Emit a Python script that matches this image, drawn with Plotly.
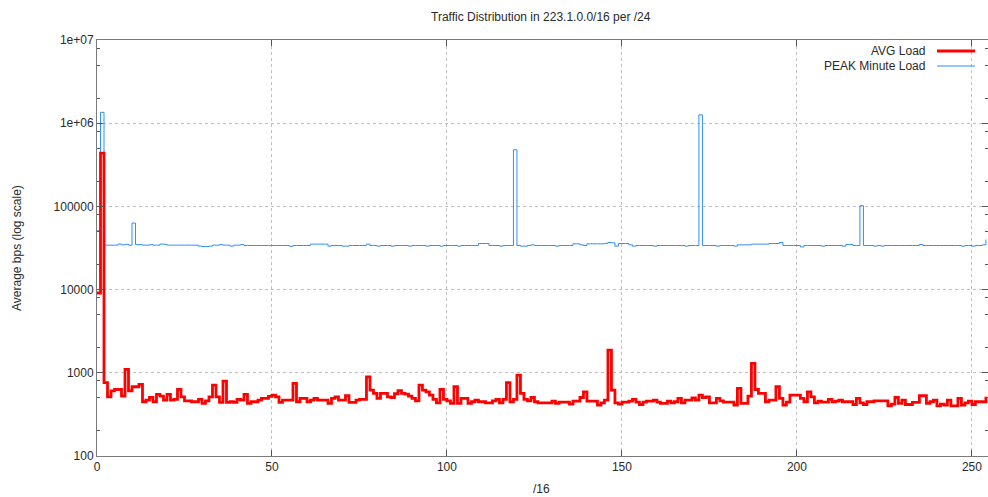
import plotly.graph_objects as go

# /24 index within 223.1.0.0/16
subnets = list(range(0, 255))

avg_load = [
    9100, 436000, 760, 515, 608, 630, 630, 525, 1100, 608,
    680, 680, 725, 449, 470, 506, 449, 550, 525, 470,
    550, 470, 480, 630, 515, 460, 460, 449, 449, 480,
    428, 460, 515, 710, 515, 440, 795, 440, 449, 440,
    480, 470, 550, 429, 449, 449, 470, 492, 492, 520,
    540, 515, 440, 470, 470, 470, 745, 449, 492, 492,
    449, 470, 492, 470, 470, 470, 429, 492, 515, 470,
    470, 530, 440, 440, 470, 480, 480, 895, 620, 565,
    492, 565, 565, 515, 505, 560, 610, 565, 555, 525,
    492, 460, 710, 620, 590, 540, 480, 436, 630, 480,
    460, 429, 680, 429, 492, 492, 429, 449, 470, 449,
    449, 436, 436, 460, 480, 436, 480, 760, 449, 480,
    940, 565, 480, 460, 505, 449, 436, 436, 436, 436,
    457, 429, 445, 445, 445, 420, 457, 457, 505, 590,
    457, 457, 457, 410, 436, 470, 1870, 620, 436, 420,
    445, 445, 457, 480, 445, 416, 445, 457, 457, 470,
    445, 429, 429, 457, 436, 449, 492, 436, 470, 470,
    500, 470, 540, 505, 515, 436, 436, 492, 460, 445,
    445, 445, 410, 650, 429, 429, 525, 1295, 630, 565,
    565, 449, 470, 470, 680, 492, 410, 445, 540, 540,
    540, 492, 449, 590, 515, 436, 457, 445, 445, 480,
    449, 457, 470, 449, 449, 449, 416, 492, 436, 416,
    449, 449, 460, 460, 460, 460, 400, 420, 505, 429,
    470, 416, 416, 440, 440, 530, 530, 429, 449, 470,
    400, 420, 410, 470, 400, 400, 492, 410, 436, 457,
    416, 449, 449, 449, 515,
]

peak_minute_load = [
    51000, 1350000, 34200, 34200, 34200, 34200, 35300, 34500, 35000, 34200,
    63000, 34700, 34700, 34200, 34200, 34700, 34200, 34200, 35300, 35000,
    34200, 34200, 34200, 34200, 34200, 34200, 34200, 34200, 34200, 33300,
    33000, 33000, 33300, 34200, 34200, 34700, 34200, 34200, 33300, 34200,
    34200, 34700, 33900, 33900, 33900, 33900, 33900, 33900, 33900, 33900,
    33900, 33900, 33900, 33900, 33900, 33100, 33900, 33900, 33900, 33900,
    33900, 35200, 35200, 35200, 35200, 35200, 33300, 33900, 33900, 33900,
    33300, 33300, 33900, 33900, 33900, 33900, 34000, 35200, 33900, 33900,
    33300, 33900, 33900, 33900, 33300, 33900, 33900, 33900, 33900, 33300,
    33900, 33900, 33900, 33900, 33300, 33900, 33900, 33900, 33300, 33900,
    33900, 33900, 33900, 33300, 33900, 33900, 33900, 33900, 33900, 35800,
    35800, 35800, 33900, 33900, 33900, 33300, 33900, 33900, 33900, 478000,
    33900, 33300, 33300, 33900, 34500, 33900, 33900, 33900, 33900, 33900,
    33900, 33300, 33900, 33900, 33900, 33900, 35500, 35500, 34500, 33900,
    35500, 35500, 35500, 35500, 35500, 36000, 36800, 36500, 33300, 35800,
    35800, 35800, 34500, 33300, 33900, 33900, 33900, 33900, 33900, 33300,
    33900, 33900, 33900, 33900, 33900, 33900, 33900, 33900, 33300, 33900,
    33900, 33900, 1260000, 33900, 33900, 33900, 33900, 33300, 33900, 33900,
    33900, 33900, 33300, 34500, 34500, 34500, 34500, 35200, 35200, 35200,
    35200, 35200, 35800, 35800, 35800, 36800, 33900, 33900, 33900, 33900,
    33900, 32600, 33900, 33900, 33900, 33900, 33900, 33300, 33900, 33900,
    33900, 33900, 33900, 33300, 34800, 34800, 33900, 33900, 102000, 33900,
    33900, 33900, 33300, 33900, 33300, 33900, 33900, 33900, 33900, 33900,
    33900, 33900, 33900, 33900, 33900, 34800, 33900, 33900, 33900, 33900,
    33900, 33900, 33900, 33900, 33900, 33900, 33900, 33300, 33900, 33900,
    33300, 33900, 33900, 34500, 40000,
]

x_ticks = [0, 50, 100, 150, 200, 250]
y_ticks = [100, 1000, 10000, 100000, 1000000, 10000000]
y_tick_labels = ["100", "1000", "10000", "100000", "1e+06", "1e+07"]
y_minor = [m * 10 ** e for e in range(2, 7) for m in (2, 5, 8)]

RED = "#ff0000"
BLUE = "#2f8ff5"
FONT = "Liberation Sans, Arial, sans-serif"
TXT = "#2a2a2a"

fig = go.Figure()
fig.add_trace(go.Scatter(
    x=subnets, y=peak_minute_load, mode="lines", line_shape="hv",
    line=dict(color=BLUE, width=1), name="PEAK Minute Load", showlegend=False))
fig.add_trace(go.Scatter(
    x=subnets, y=avg_load, mode="lines", line_shape="hv",
    line=dict(color=RED, width=2.8), name="AVG Load", showlegend=False))

W, H = 988, 497
PL, PT, PR, PB = 97, 40, 988, 456          # plot box in page pixels
L, T, R, B = PL, PT, W - PR, H - PB
pw, ph = W - L - R, H - T - B


def px(xp):
    return (xp - L) / pw


def py(yp):
    return (H - B - yp) / ph


axis_common = dict(
    showline=True, linecolor="#7a7a7a", linewidth=1, mirror="ticks",
    ticks="inside", ticklen=6, tickcolor="#555555", tickwidth=1,
    showgrid=True, gridcolor="#c0c0c0", griddash="dot", gridwidth=1,
    zeroline=False, tickfont=dict(family=FONT, size=12, color=TXT),
)

fig.update_layout(
    width=W, height=H,
    margin=dict(l=L, r=R, t=T, b=B),
    plot_bgcolor="white", paper_bgcolor="white",
    font=dict(family=FONT, size=12, color=TXT),
    xaxis=dict(range=[0, 254.6], tickvals=x_ticks, ticktext=[str(v) for v in x_ticks],
               **axis_common),
    yaxis=dict(type="log", range=[2, 7], tickvals=y_ticks, ticktext=y_tick_labels,
               minor=dict(tickvals=y_minor, ticks="inside", ticklen=3,
                          tickcolor="#555555", showgrid=False),
               **axis_common),
)

anns = [
    dict(text="Traffic Distribution in 223.1.0.0/16 per /24", x=px(541), y=py(17),
         xref="paper", yref="paper", xanchor="center", yanchor="middle", showarrow=False,
         font=dict(family=FONT, size=12, color=TXT)),
    dict(text="/16", x=px(541), y=py(489), xref="paper", yref="paper",
         xanchor="center", yanchor="middle", showarrow=False,
         font=dict(family=FONT, size=12, color=TXT)),
    dict(text="Average bps (log scale)", x=px(17), y=py(248), xref="paper", yref="paper",
         xanchor="center", yanchor="middle", showarrow=False, textangle=-90,
         font=dict(family=FONT, size=12, color=TXT)),
    dict(text="AVG Load", x=px(927), y=py(51), xref="paper", yref="paper",
         xanchor="right", yanchor="middle", showarrow=False,
         font=dict(family=FONT, size=12, color=TXT)),
    dict(text="PEAK Minute Load", x=px(927), y=py(66), xref="paper", yref="paper",
         xanchor="right", yanchor="middle", showarrow=False,
         font=dict(family=FONT, size=12, color=TXT)),
]
shapes = [
    dict(type="line", xref="paper", yref="paper", x0=px(937), x1=px(975),
         y0=py(51), y1=py(51), line=dict(color=RED, width=2.8)),
    dict(type="line", xref="paper", yref="paper", x0=px(937), x1=px(975),
         y0=py(66), y1=py(66), line=dict(color=BLUE, width=1)),
]
fig.update_layout(annotations=anns, shapes=shapes)

# the page's default 8px body margin would shift and clip the figure
fig.write_html("out.html",
               config={"displayModeBar": False},
               post_script="document.body.style.margin='0';"
                           "document.documentElement.style.overflow='hidden';")
